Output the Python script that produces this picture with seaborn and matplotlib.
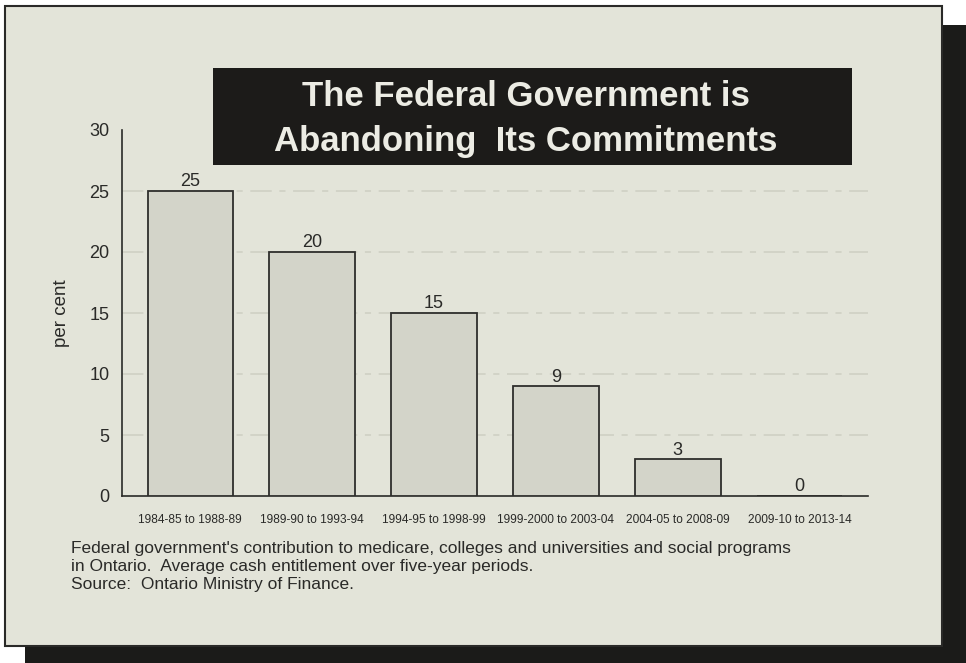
import matplotlib
matplotlib.use("Agg")
import matplotlib.pyplot as plt
from matplotlib.patches import Rectangle
import seaborn as sns
import pandas as pd

periods = ["1984-85 to 1988-89", "1989-90 to 1993-94", "1994-95 to 1998-99",
           "1999-2000 to 2003-04", "2004-05 to 2008-09", "2009-10 to 2013-14"]
percent = [25, 20, 15, 9, 3, 0]
yticks = [0, 5, 10, 15, 20, 25, 30]
title_lines = ["The Federal Government is", "Abandoning  Its Commitments"]
footnote = ["Federal government's contribution to medicare, colleges and universities and social programs",
            "in Ontario.  Average cash entitlement over five-year periods.",
            "Source:  Ontario Ministry of Finance."]

sns.set_style("white")
plt.rcParams['font.family'] = ['Liberation Sans', 'DejaVu Sans']

BG = "#e3e4d9"
INK = "#2a2a28"
W, H = 966, 663
fig = plt.figure(figsize=(W / 100, H / 100), dpi=100)
fig.patch.set_facecolor("white")

def fx(px):
    return px / W

def fy(py):
    return 1 - py / H

# shadow
fig.patches.append(Rectangle((fx(942), fy(663)), fx(24), 638 / H, transform=fig.transFigure,
                             facecolor="#1b1b19", edgecolor="none", zorder=0))
fig.patches.append(Rectangle((fx(25), fy(663)), fx(917), 17 / H, transform=fig.transFigure,
                             facecolor="#1b1b19", edgecolor="none", zorder=0))
# frame
fig.patches.append(Rectangle((fx(5), fy(646)), fx(937), 640 / H, transform=fig.transFigure,
                             facecolor=BG, edgecolor=INK, linewidth=1.5, zorder=0.5))

ax = fig.add_axes([fx(122), fy(496), fx(746), 366 / H])
ax.set_zorder(2)
ax.set_facecolor("none")
df = pd.DataFrame({"period": periods, "percent": percent})
sns.barplot(data=df, x="period", y="percent", ax=ax, color="#d3d4c9", saturation=1,
            edgecolor="#2e2e2c", linewidth=1.3, width=0.7, zorder=3)

ax.set_xlim(-0.56, 5.56)
ax.set_ylim(0, 30)
ax.set_yticks(yticks)
ax.set_yticklabels([str(v) for v in yticks], fontsize=13, color=INK)
ax.set_xticks(range(len(periods)))
ax.set_xticklabels(periods, fontsize=8.6, color=INK)
ax.tick_params(axis='y', direction='in', length=4, width=1, color=INK, pad=9)
ax.tick_params(axis='x', direction='out', length=5, width=1, color=INK, pad=8)
for g in yticks[1:-1]:
    ax.axhline(g, color="#cdcec2", linewidth=1.1, linestyle=(0, (14, 5, 4, 5)), zorder=1)
for s in ["top", "right"]:
    ax.spines[s].set_visible(False)
for s in ["left", "bottom"]:
    ax.spines[s].set_color(INK)
    ax.spines[s].set_linewidth(1.2)
ax.set_xlabel("")
ax.set_ylabel("per cent", fontsize=13.5, color=INK, labelpad=14)

for i, v in enumerate(percent):
    ax.text(i, v + 0.75, str(v), ha="center", va="center", fontsize=13, color=INK)

# title box
fig.patches.append(Rectangle((fx(213), fy(165)), fx(639), 97 / H, transform=fig.transFigure,
                             facecolor="#1c1b19", edgecolor="none", zorder=3))
fig.text(fx(526), fy(97), title_lines[0], ha="center", va="center", fontsize=25,
         fontweight="bold", color="#ecece4", zorder=4)
fig.text(fx(526), fy(142), title_lines[1], ha="center", va="center", fontsize=25,
         fontweight="bold", color="#ecece4", zorder=4)

for i, line in enumerate(footnote):
    fig.text(fx(71), fy(549 + i * 17.5), line, ha="left", va="center", fontsize=12.5,
             color=INK, zorder=4)

fig.savefig("out.png", dpi=100, facecolor=fig.get_facecolor())
